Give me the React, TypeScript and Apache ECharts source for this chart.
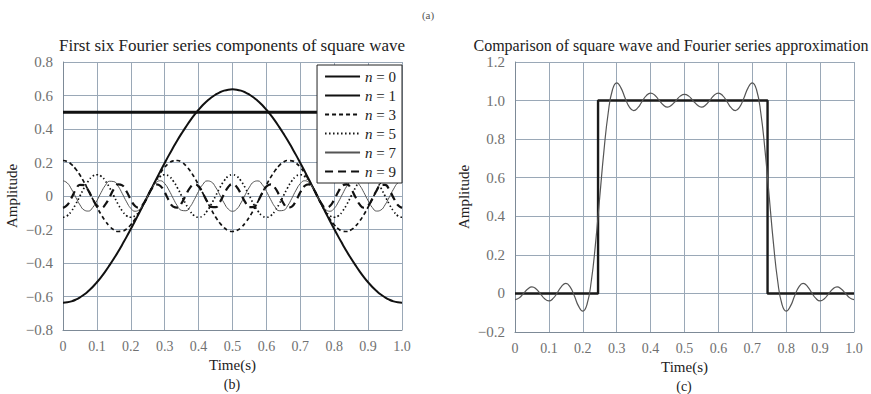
import React, { useEffect, useRef } from "react";
import * as echarts from "echarts";

const TIME = [0,0.0125,0.025,0.0375,0.05,0.0625,0.075,0.0875,0.1,0.1125,0.125,0.1375,0.15,0.1625,0.175,0.1875,0.2,0.2125,0.225,0.2375,0.25,0.2625,0.275,0.2875,0.3,0.3125,0.325,0.3375,0.35,0.3625,0.375,0.3875,0.4,0.4125,0.425,0.4375,0.45,0.4625,0.475,0.4875,0.5,0.5125,0.525,0.5375,0.55,0.5625,0.575,0.5875,0.6,0.6125,0.625,0.6375,0.65,0.6625,0.675,0.6875,0.7,0.7125,0.725,0.7375,0.75,0.7625,0.775,0.7875,0.8,0.8125,0.825,0.8375,0.85,0.8625,0.875,0.8875,0.9,0.9125,0.925,0.9375,0.95,0.9625,0.975,0.9875,1];

const N0_TIME = [0, 1];
const N0 = [0.5, 0.5];

const N1 = [-0.637,-0.635,-0.629,-0.619,-0.605,-0.588,-0.567,-0.543,-0.515,-0.484,-0.450,-0.413,-0.374,-0.333,-0.289,-0.244,-0.197,-0.149,-0.100,-0.050,0,0.050,0.100,0.149,0.197,0.244,0.289,0.333,0.374,0.413,0.450,0.484,0.515,0.543,0.567,0.588,0.605,0.619,0.629,0.635,0.637,
  0.635,0.629,0.619,0.605,0.588,0.567,0.543,0.515,0.484,0.450,0.413,0.374,0.333,0.289,0.244,0.197,0.149,0.100,0.050,0,-0.050,-0.100,-0.149,-0.197,-0.244,-0.289,-0.333,-0.374,-0.413,-0.450,-0.484,-0.515,-0.543,-0.567,-0.588,-0.605,-0.619,-0.629,-0.635,-0.637];

const N3 = [0.212,0.206,0.189,0.161,0.125,0.081,0.033,-0.017,-0.066,-0.111,-0.150,-0.181,-0.202,-0.212,-0.210,-0.196,-0.172,-0.138,-0.096,-0.050,0,0.050,0.096,0.138,0.172,0.196,0.210,0.212,0.202,0.181,0.150,0.111,0.066,0.017,-0.033,-0.081,-0.125,-0.161,-0.189,-0.206,-0.212,
  -0.206,-0.189,-0.161,-0.125,-0.081,-0.033,0.017,0.066,0.111,0.150,0.181,0.202,0.212,0.210,0.196,0.172,0.138,0.096,0.050,0,-0.050,-0.096,-0.138,-0.172,-0.196,-0.210,-0.212,-0.202,-0.181,-0.150,-0.111,-0.066,-0.017,0.033,0.081,0.125,0.161,0.189,0.206,0.212];

const N5 = [-0.127,-0.118,-0.090,-0.049,0,0.049,0.090,0.118,0.127,0.118,0.090,0.049,0,-0.049,-0.090,-0.118,
  -0.127,-0.118,-0.090,-0.049,0,0.049,0.090,0.118,0.127,0.118,0.090,0.049,0,-0.049,-0.090,-0.118,
  -0.127,-0.118,-0.090,-0.049,0,0.049,0.090,0.118,0.127,0.118,0.090,0.049,0,-0.049,-0.090,-0.118,
  -0.127,-0.118,-0.090,-0.049,0,0.049,0.090,0.118,0.127,0.118,0.090,0.049,0,-0.049,-0.090,-0.118,
  -0.127,-0.118,-0.090,-0.049,0,0.049,0.090,0.118,0.127,0.118,0.090,0.049,0,-0.049,-0.090,-0.118,
  -0.127];

const N7 = [0.091,0.078,0.041,-0.007,-0.053,-0.084,-0.090,-0.069,-0.028,0.021,0.064,0.088,0.086,0.059,0.014,-0.035,-0.074,-0.091,-0.081,-0.047,0,0.047,0.081,0.091,0.074,0.035,-0.014,-0.059,-0.086,-0.088,-0.064,-0.021,0.028,0.069,0.090,0.084,0.053,0.007,-0.041,-0.078,-0.091,
  -0.078,-0.041,0.007,0.053,0.084,0.090,0.069,0.028,-0.021,-0.064,-0.088,-0.086,-0.059,-0.014,0.035,0.074,0.091,0.081,0.047,0,-0.047,-0.081,-0.091,-0.074,-0.035,0.014,0.059,0.086,0.088,0.064,0.021,-0.028,-0.069,-0.090,-0.084,-0.053,-0.007,0.041,0.078,0.091];

const N9 = [-0.071,-0.054,-0.011,0.037,0.067,0.065,0.032,-0.017,-0.057,-0.070,-0.050,-0.006,0.042,0.069,0.063,0.027,-0.022,-0.060,-0.070,-0.046,0,0.046,0.070,0.060,0.022,-0.027,-0.063,-0.069,-0.042,0.006,0.050,0.070,0.057,0.017,-0.032,-0.065,-0.067,-0.037,0.011,0.054,0.071,
  0.054,0.011,-0.037,-0.067,-0.065,-0.032,0.017,0.057,0.070,0.050,0.006,-0.042,-0.069,-0.063,-0.027,0.022,0.060,0.070,0.046,0,-0.046,-0.070,-0.060,-0.022,0.027,0.063,0.069,0.042,-0.006,-0.050,-0.070,-0.057,-0.017,0.032,0.065,0.067,0.037,-0.011,-0.054,-0.071];

const APPROX = [-0.032,-0.023,0.000,0.023,0.034,0.023,-0.002,-0.028,-0.039,-0.026,0.004,0.037,0.052,0.034,-0.012,-0.066,-0.092,-0.056,0.063,0.258,0.500,0.742,0.937,1.056,1.092,1.066,1.012,0.966,0.948,0.963,0.996,1.026,1.039,1.028,1.002,0.977,0.966,0.977,1.000,1.023,1.032,
  1.023,1.000,0.977,0.966,0.977,1.002,1.028,1.039,1.026,0.996,0.963,0.948,0.966,1.012,1.066,1.092,1.056,0.937,0.742,0.500,0.258,0.063,-0.056,-0.092,-0.066,-0.012,0.034,0.052,0.037,0.004,-0.026,-0.039,-0.028,-0.002,0.023,0.034,0.023,0.000,-0.023,-0.032];

const SQUARE_TIME = [0, 0.245, 0.245, 0.745, 0.745, 1];
const SQUARE = [0, 0, 1, 1, 0, 0];

const LEGEND_NAMES = ["n = 0", "n = 1", "n = 3", "n = 5", "n = 7", "n = 9"];

const SERIF = '"Liberation Serif", "Times New Roman", serif';
const GRID_COLOR = "#9aa8b7";
const LABEL_COLOR = "#707070";

const pairs = (xs: number[], ys: number[]) => xs.map((x, i) => [x, ys[i]]);
const fmt = (v: number) => (Math.abs(v) < 1e-9 ? "0" : v.toFixed(1).replace("-", "\u2212"));

export default function App() {
  const ref = useRef<HTMLDivElement>(null);
  useEffect(() => {
    if (!ref.current) return;
    const chart = echarts.init(ref.current, null, { renderer: "svg" });

    const xAxisBase = (gridIndex: number) => ({
      type: "value",
      gridIndex,
      min: 0,
      max: 1,
      interval: 0.1,
      name: "Time(s)",
      nameLocation: "middle",
      nameGap: 23,
      nameTextStyle: { fontFamily: SERIF, fontSize: 15, color: "#222" },
      axisLine: { show: true, onZero: false, lineStyle: { color: "#7d8a97", width: 1 } },
      axisTick: { show: false },
      axisLabel: { formatter: fmt, fontFamily: SERIF, fontSize: 14, color: LABEL_COLOR, margin: 9 },
      splitLine: { show: true, lineStyle: { color: GRID_COLOR, width: 1 } },
    });
    const yAxisBase = (gridIndex: number, min: number, max: number) => ({
      type: "value",
      gridIndex,
      min,
      max,
      interval: 0.2,
      name: "Amplitude",
      nameLocation: "middle",
      nameGap: 44,
      nameTextStyle: { fontFamily: SERIF, fontSize: 15, color: "#222" },
      axisLine: { show: true, onZero: false, lineStyle: { color: "#7d8a97", width: 1 } },
      axisTick: { show: false },
      axisLabel: { formatter: fmt, fontFamily: SERIF, fontSize: 15, color: LABEL_COLOR, margin: 10 },
      splitLine: { show: true, lineStyle: { color: GRID_COLOR, width: 1 } },
    });

    const lineBase = (name: string, xs: number[], ys: number[], width: number, type: any, color = "#111") => ({
      type: "line",
      name,
      xAxisIndex: 0,
      yAxisIndex: 0,
      data: pairs(xs, ys),
      symbol: "none",
      smooth: true,
      lineStyle: { color, width, type },
      itemStyle: { color },
      z: 3,
    });

    chart.setOption({
      animation: false,
      backgroundColor: "#ffffff",
      grid: [
        { left: 63, top: 62, width: 339, height: 268 },
        { left: 515, top: 62, width: 339, height: 270 },
      ],
      xAxis: [xAxisBase(0), xAxisBase(1)],
      yAxis: [yAxisBase(0, -0.8, 0.8), yAxisBase(1, -0.2, 1.2)],
      legend: {
        data: LEGEND_NAMES,
        orient: "vertical",
        right: 469,
        top: 65,
        itemWidth: 35,
        itemHeight: 14,
        itemGap: 4,
        padding: [4, 6, 4, 7],
        backgroundColor: "#ffffff",
        borderColor: "#222",
        borderWidth: 1,
        borderRadius: 0,
        selectedMode: false,
        itemStyle: { opacity: 0, color: "rgba(0,0,0,0)", borderWidth: 0 },
        textStyle: {
          fontFamily: SERIF,
          fontSize: 15,
          color: "#222",
          rich: { i: { fontFamily: SERIF, fontSize: 15, fontStyle: "italic", color: "#222" } },
        },
        formatter: (name: string) => "{i|n}" + name.slice(1),
      },
      series: [
        { ...lineBase(LEGEND_NAMES[0], N0_TIME, N0, 3, "solid"), smooth: false },
        lineBase(LEGEND_NAMES[1], TIME, N1, 2, "solid"),
        lineBase(LEGEND_NAMES[2], TIME, N3, 1.7, [4, 3]),
        lineBase(LEGEND_NAMES[3], TIME, N5, 1.7, [1.5, 2.5]),
        lineBase(LEGEND_NAMES[4], TIME, N7, 1, "solid", "#555"),
        lineBase(LEGEND_NAMES[5], TIME, N9, 2.2, [8, 5]),
        {
          type: "line",
          name: "square",
          xAxisIndex: 1,
          yAxisIndex: 1,
          data: pairs(SQUARE_TIME, SQUARE),
          symbol: "none",
          lineStyle: { color: "#1a1a1a", width: 2.4 },
          z: 3,
        },
        {
          type: "line",
          name: "approx",
          xAxisIndex: 1,
          yAxisIndex: 1,
          data: pairs(TIME, APPROX),
          symbol: "none",
          smooth: true,
          lineStyle: { color: "#555", width: 1.2 },
          z: 4,
        },
      ],
      graphic: [
        { type: "text", x: 232, y: 45, style: { text: "First six Fourier series components of square wave", font: `17px ${SERIF}`, fill: "#222", textAlign: "center", textVerticalAlign: "middle" } },
        { type: "text", x: 671, y: 45, style: { text: "Comparison of square wave and Fourier series approximation", font: `16px ${SERIF}`, fill: "#222", textAlign: "center", textVerticalAlign: "middle" } },
        { type: "text", x: 428, y: 15, style: { text: "(a)", font: `11px ${SERIF}`, fill: "#555", textAlign: "center", textVerticalAlign: "middle" } },
        { type: "text", x: 232, y: 384, style: { text: "(b)", font: `14px ${SERIF}`, fill: "#222", textAlign: "center", textVerticalAlign: "middle" } },
        { type: "text", x: 684, y: 386, style: { text: "(c)", font: `14px ${SERIF}`, fill: "#222", textAlign: "center", textVerticalAlign: "middle" } },
      ],
    });
    return () => chart.dispose();
  }, []);
  return <div ref={ref} style={{ position: "absolute", left: 0, top: 0, width: 871, height: 394, background: "#fff" }} />;
}
